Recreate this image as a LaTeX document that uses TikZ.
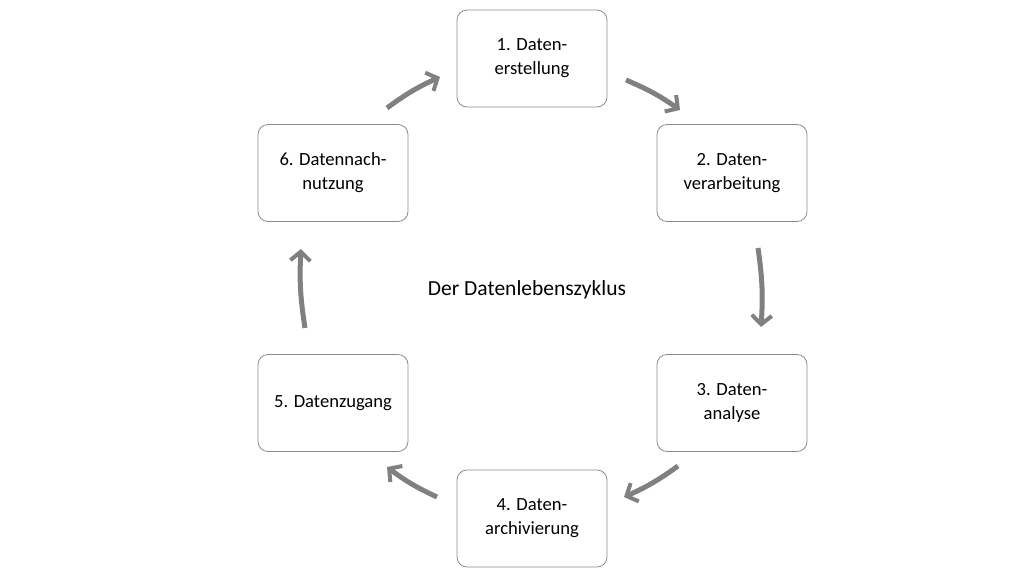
\documentclass[tikz,border=0pt]{standalone}
\usepackage{fontspec}
\setmainfont{Carlito}
\usetikzlibrary{arrows.meta}

\tikzset{
  stage/.style={draw=black!45, rounded corners=10pt, minimum width=150pt, minimum height=97pt,
    align=center, font=\fontsize{18.6}{24}\selectfont, line width=0.8pt},
  cyclearrow/.style={draw=black!50, line width=5pt, -{Straight Barb[length=9pt,width=20pt,line width=4pt]}}
}

\begin{document}
\begin{tikzpicture}[x=1pt,y=-1pt]
      \useasboundingbox (0,0) rectangle (1024,576);
      \node [stage] (n1) at (532,58.5) {1. Daten-\\erstellung};
      \node [stage] (n2) at (732,173) {2. Daten-\\verarbeitung};
      \node [stage] (n3) at (732,403) {3. Daten-\\analyse};
      \node [stage] (n4) at (532,518.5) {4. Daten-\\archivierung};
      \node [stage] (n5) at (333,403) {5. Datenzugang};
      \node [stage] (n6) at (333,173) {6. Datennach-\\nutzung};
      \node [font=\fontsize{21.5}{26}\selectfont] (title) at (527,290) {Der Datenlebenszyklus};

      % arrow ends
      \coordinate (s12) at (626,80);   \coordinate (e12) at (680,110);
      \coordinate (s23) at (758,248);  \coordinate (e23) at (761,327);
      \coordinate (s34) at (678,466);  \coordinate (e34) at (624,497);
      \coordinate (s45) at (437,497);  \coordinate (e45) at (387,467);
      \coordinate (s56) at (305,328);  \coordinate (e56) at (301,249);
      \coordinate (s61) at (387,108);  \coordinate (e61) at (440,77);

      \draw [cyclearrow] (s12) to [bend left=6] (e12);
      \draw [cyclearrow] (s23) to [bend left=6] (e23);
      \draw [cyclearrow] (s34) to [bend left=6] (e34);
      \draw [cyclearrow] (s45) to [bend left=6] (e45);
      \draw [cyclearrow] (s56) to [bend left=6] (e56);
      \draw [cyclearrow] (s61) to [bend left=6] (e61);
\end{tikzpicture}
\end{document}
